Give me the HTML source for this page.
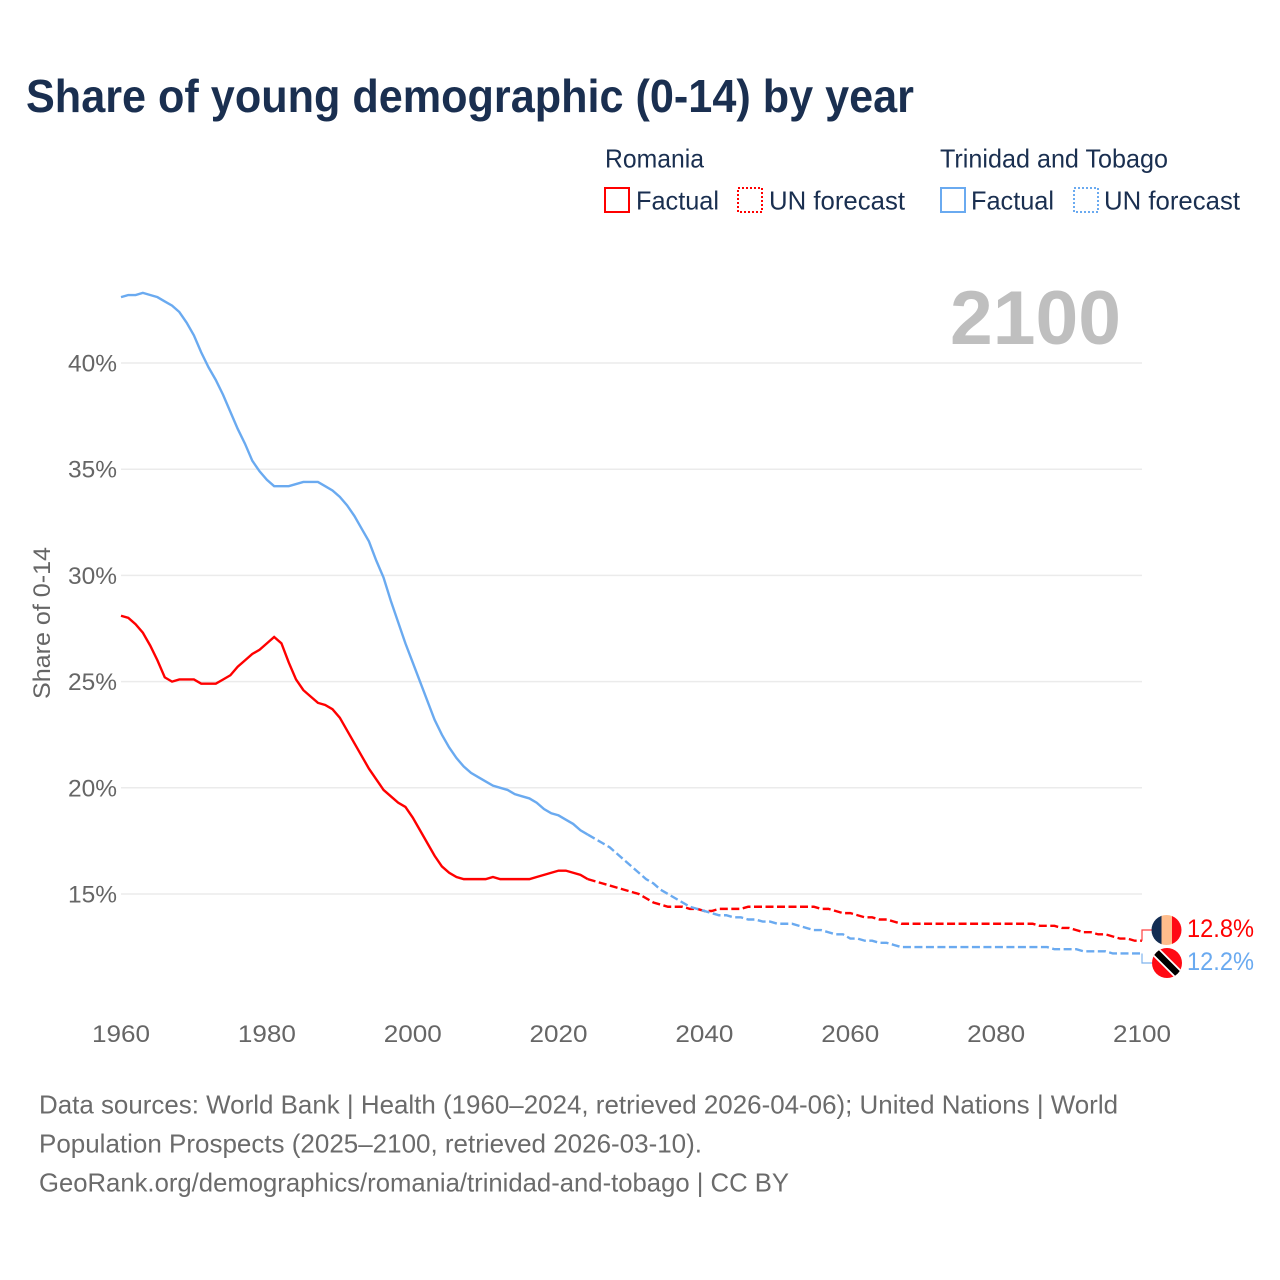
<!DOCTYPE html>
<html lang="en">
<head>
<meta charset="utf-8">
<title>Share of young demographic (0-14) by year</title>
<style>
html,body{margin:0;padding:0;background:#fff;width:1280px;height:1280px;overflow:hidden}
svg{display:block}
text{font-family:"Liberation Sans",sans-serif}
</style>
</head>
<body>
<svg id="chart" width="1280" height="1280" viewBox="0 0 1280 1280" xmlns="http://www.w3.org/2000/svg">
  <text x="26" y="112" font-size="46" font-weight="700" fill="#1a2f50" textLength="888" lengthAdjust="spacingAndGlyphs">Share of young demographic (0-14) by year</text>

  <g font-size="26" fill="#1a2f50">
    <text x="605" y="167.5" textLength="99" lengthAdjust="spacingAndGlyphs">Romania</text>
    <rect x="605" y="188" width="24" height="24" fill="none" stroke="#ff0000" stroke-width="2"/>
    <text x="636" y="209.5" textLength="83" lengthAdjust="spacingAndGlyphs">Factual</text>
    <rect x="738" y="188" width="24" height="24" fill="none" stroke="#ff0000" stroke-width="2" stroke-dasharray="2 2"/>
    <text x="769" y="209.5" textLength="136" lengthAdjust="spacingAndGlyphs">UN forecast</text>
    <text x="940" y="167.5" textLength="228" lengthAdjust="spacingAndGlyphs">Trinidad and Tobago</text>
    <rect x="941" y="188" width="24" height="24" fill="none" stroke="#6aaaf0" stroke-width="2"/>
    <text x="971" y="209.5" textLength="83" lengthAdjust="spacingAndGlyphs">Factual</text>
    <rect x="1074" y="188" width="24" height="24" fill="none" stroke="#6aaaf0" stroke-width="2" stroke-dasharray="2 2"/>
    <text x="1104" y="209.5" textLength="136" lengthAdjust="spacingAndGlyphs">UN forecast</text>
  </g>

  <text x="950" y="344" font-size="76" font-weight="700" fill="#bfbfbf" textLength="171" lengthAdjust="spacingAndGlyphs">2100</text>

  <g id="grid"></g>
  <g id="yticks" font-size="24" fill="#666666" text-anchor="end"></g>
  <g id="xticks" font-size="24" fill="#666666" text-anchor="middle"></g>
  <text transform="translate(50 699) rotate(-90)" font-size="24" fill="#666666" textLength="152" lengthAdjust="spacingAndGlyphs">Share of 0-14</text>

  <g id="series"></g>

  <path id="connector-ro" fill="none" stroke="#ff4040" stroke-width="1.2"/>
  <path id="connector-tt" fill="none" stroke="#7fb3ee" stroke-width="1.2"/>

  <g>
    <clipPath id="ro-clip"><circle cx="1166.5" cy="930" r="15"/></clipPath>
    <g clip-path="url(#ro-clip)">
      <rect x="1151" y="915" width="11" height="30" fill="#132d53"/>
      <rect x="1161.5" y="915" width="10.5" height="30" fill="#ffbd8c"/>
      <rect x="1172" y="915" width="10" height="30" fill="#ff0a14"/>
    </g>
  </g>
  <g>
    <clipPath id="tt-clip"><circle cx="1167" cy="963" r="15"/></clipPath>
    <g clip-path="url(#tt-clip)">
      <rect x="1151" y="947" width="32" height="32" fill="#ff0a14"/>
      <line x1="1151" y1="947" x2="1183" y2="979" stroke="#ffffff" stroke-width="10"/>
      <line x1="1151" y1="947" x2="1183" y2="979" stroke="#000000" stroke-width="6.5"/>
    </g>
  </g>

  <text id="end-label-ro" x="1187" y="937" font-size="25" fill="#ff0000" textLength="67" lengthAdjust="spacingAndGlyphs">12.8%</text>
  <text id="end-label-tt" x="1187" y="970" font-size="25" fill="#6aaaf0" textLength="67" lengthAdjust="spacingAndGlyphs">12.2%</text>

  <g font-size="26" fill="#6b6b6b">
    <text x="39" y="1113.5" textLength="1079" lengthAdjust="spacingAndGlyphs">Data sources: World Bank | Health (1960–2024, retrieved 2026-04-06); United Nations | World</text>
    <text x="39" y="1152.5" textLength="663" lengthAdjust="spacingAndGlyphs">Population Prospects (2025–2100, retrieved 2026-03-10).</text>
    <text x="39" y="1191.5" textLength="750" lengthAdjust="spacingAndGlyphs">GeoRank.org/demographics/romania/trinidad-and-tobago | CC BY</text>
  </g>
</svg>
<script>
const firstYear = 1960;
const lastFactualYear = 2024;
const xTickYears = [1960, 1980, 2000, 2020, 2040, 2060, 2080, 2100];
const yTickValues = [15, 20, 25, 30, 35, 40];
const romaniaValues = [
  28.1,28.0,27.7,27.3,26.7,26.0,25.2,25.0,25.1,25.1,
  25.1,24.9,24.9,24.9,25.1,25.3,25.7,26.0,26.3,26.5,
  26.8,27.1,26.8,25.9,25.1,24.6,24.3,24.0,23.9,23.7,
  23.3,22.7,22.1,21.5,20.9,20.4,19.9,19.6,19.3,19.1,
  18.6,18.0,17.4,16.8,16.3,16.0,15.8,15.7,15.7,15.7,
  15.7,15.8,15.7,15.7,15.7,15.7,15.7,15.8,15.9,16.0,
  16.1,16.1,16.0,15.9,15.7,
  15.6,15.5,15.4,15.3,15.2,15.1,15.0,14.8,14.6,14.5,
  14.4,14.4,14.4,14.3,14.3,14.2,14.2,14.3,14.3,14.3,
  14.3,14.4,14.4,14.4,14.4,14.4,14.4,14.4,14.4,14.4,
  14.4,14.3,14.3,14.2,14.1,14.1,14.0,13.9,13.9,13.8,
  13.8,13.7,13.6,13.6,13.6,13.6,13.6,13.6,13.6,13.6,
  13.6,13.6,13.6,13.6,13.6,13.6,13.6,13.6,13.6,13.6,
  13.6,13.5,13.5,13.5,13.4,13.4,13.3,13.2,13.2,13.1,
  13.1,13.0,12.9,12.9,12.8,12.8
];
const trinidadValues = [
  43.1,43.2,43.2,43.3,43.2,43.1,42.9,42.7,42.4,41.9,
  41.3,40.5,39.8,39.2,38.5,37.7,36.9,36.2,35.4,34.9,
  34.5,34.2,34.2,34.2,34.3,34.4,34.4,34.4,34.2,34.0,
  33.7,33.3,32.8,32.2,31.6,30.7,29.9,28.8,27.8,26.8,
  25.9,25.0,24.1,23.2,22.5,21.9,21.4,21.0,20.7,20.5,
  20.3,20.1,20.0,19.9,19.7,19.6,19.5,19.3,19.0,18.8,
  18.7,18.5,18.3,18.0,17.8,
  17.6,17.4,17.2,16.9,16.6,16.3,16.0,15.7,15.5,15.2,
  15.0,14.8,14.6,14.4,14.3,14.2,14.1,14.0,14.0,13.9,
  13.9,13.8,13.8,13.7,13.7,13.6,13.6,13.6,13.5,13.4,
  13.3,13.3,13.2,13.1,13.1,12.9,12.9,12.8,12.8,12.7,
  12.7,12.6,12.5,12.5,12.5,12.5,12.5,12.5,12.5,12.5,
  12.5,12.5,12.5,12.5,12.5,12.5,12.5,12.5,12.5,12.5,
  12.5,12.5,12.5,12.4,12.4,12.4,12.4,12.3,12.3,12.3,
  12.3,12.2,12.2,12.2,12.2,12.2
];

const SVG_NS = 'http://www.w3.org/2000/svg';
const xScale = year => 121 + (year - 1960) * (1142 - 121) / 140;
const yScale = value => 894 - (value - 15) * (894 - 363) / 25;

function make(tag, parentId) {
  const el = document.createElementNS(SVG_NS, tag);
  document.getElementById(parentId).appendChild(el);
  return el;
}

yTickValues.forEach(function (v) {
  const line = make('line', 'grid');
  
  
  line.setAttribute('x1', xScale(1960));
  line.setAttribute('x2', xScale(2100));
  line.setAttribute('y1', yScale(v));
  line.setAttribute('y2', yScale(v));
  line.setAttribute('stroke', '#ebebeb');
  line.setAttribute('stroke-width', '1.5');

  const label = make('text', 'yticks');
  
  
  label.setAttribute('x', 117);
  label.setAttribute('y', yScale(v) + 8.5);
  label.setAttribute('textLength', 49);
  label.setAttribute('lengthAdjust', 'spacingAndGlyphs');
  label.textContent = v + '%';
});

xTickYears.forEach(function (year) {
  const label = make('text', 'xticks');
  
  
  label.setAttribute('x', xScale(year));
  label.setAttribute('y', 1042);
  label.setAttribute('textLength', 58);
  label.setAttribute('lengthAdjust', 'spacingAndGlyphs');
  label.textContent = year;
});

function linePoints(values, fromYear, toYear) {
  const pts = [];
  for (let year = fromYear; year <= toYear; year++) {
    const v = values[year - firstYear];
    if (v !== undefined) pts.push(xScale(year).toFixed(2) + ',' + yScale(v).toFixed(2));
  }
  return pts.join(' ');
}

const lastYear = firstYear + romaniaValues.length - 1;

const roFactual = make('polyline', 'series');


roFactual.setAttribute('points', linePoints(romaniaValues, firstYear, lastFactualYear));
roFactual.setAttribute('fill', 'none');
roFactual.setAttribute('stroke', '#ff0000');
roFactual.setAttribute('stroke-width', '2.4');

const roForecast = make('polyline', 'series');


roForecast.setAttribute('points', linePoints(romaniaValues, lastFactualYear, lastYear));
roForecast.setAttribute('fill', 'none');
roForecast.setAttribute('stroke', '#ff0000');
roForecast.setAttribute('stroke-width', '2.4');
roForecast.setAttribute('stroke-dasharray', '8 3.5');

const ttFactual = make('polyline', 'series');


ttFactual.setAttribute('points', linePoints(trinidadValues, firstYear, lastFactualYear));
ttFactual.setAttribute('fill', 'none');
ttFactual.setAttribute('stroke', '#6aaaf0');
ttFactual.setAttribute('stroke-width', '2.4');

const ttForecast = make('polyline', 'series');


ttForecast.setAttribute('points', linePoints(trinidadValues, lastFactualYear, lastYear));
ttForecast.setAttribute('fill', 'none');
ttForecast.setAttribute('stroke', '#6aaaf0');
ttForecast.setAttribute('stroke-width', '2.4');
ttForecast.setAttribute('stroke-dasharray', '8 3.5');

const roEnd = yScale(romaniaValues[romaniaValues.length - 1]);
const ttEnd = yScale(trinidadValues[trinidadValues.length - 1]);
document.getElementById('connector-ro').setAttribute('d', 'M1142 ' + roEnd + ' V930 H1152');
document.getElementById('connector-tt').setAttribute('d', 'M1142 ' + ttEnd + ' V963 H1152');
document.getElementById('end-label-ro').textContent = romaniaValues[romaniaValues.length - 1].toFixed(1) + '%';
document.getElementById('end-label-tt').textContent = trinidadValues[trinidadValues.length - 1].toFixed(1) + '%';
</script>
</body>
</html>
